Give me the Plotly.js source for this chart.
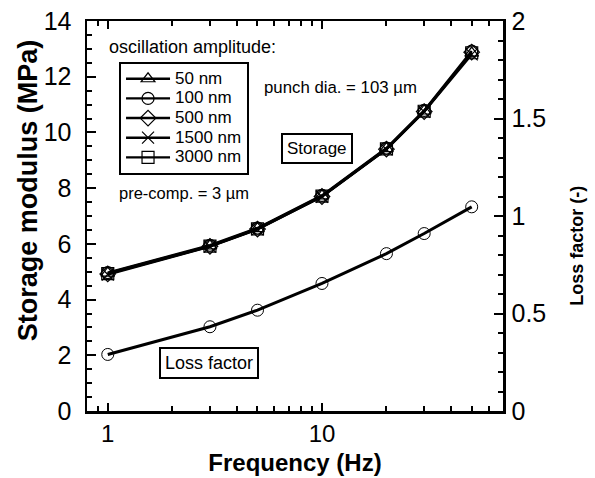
<!DOCTYPE html>
<html>
<head>
<meta charset="utf-8">
<script src="https://cdn.plot.ly/plotly-3.0.1.min.js"></script>
<style>html,body{margin:0;padding:0;background:#fff;}#chart{width:595px;height:478px;}</style>
</head>
<body>
<div id="chart"></div>
<script>
// Data
const freq = [1, 3, 5, 10, 20, 30, 50];
const amp50 = [4.95, 5.93, 6.55, 7.72, 9.42, 10.77, 12.85];
const amp100 = [4.97, 5.95, 6.57, 7.74, 9.44, 10.79, 12.92];
const amp500 = [4.92, 5.91, 6.53, 7.70, 9.40, 10.75, 12.88];
const amp1500 = [4.90, 5.90, 6.52, 7.69, 9.39, 10.74, 12.80];
const amp3000 = [4.93, 5.92, 6.54, 7.71, 9.41, 10.76, 12.86];
const lossFactor = [0.290, 0.432, 0.517, 0.654, 0.807, 0.910, 1.047];
const seriesNames = ["50 nm", "100 nm", "500 nm", "1500 nm", "3000 nm"];
const seriesSymbols = ["triangle-up-open", "circle-open", "diamond-open", "x-thin-open", "square-open"];
const xTickVals = [1, 10];
const xTickText = ["1", "10"];
const xMinorVals = [0.9, 2, 3, 4, 5, 6, 7, 8, 9, 20, 30, 40, 50, 60];

const FONT = "Liberation Sans, Arial, Helvetica, sans-serif";
const storageSets = [amp50, amp100, amp500, amp1500, amp3000];

const traces = storageSets.map((ys, i) => ({
  x: freq, y: ys, name: '<span style="font-size:17px">' + seriesNames[i] + '</span>',
  type: "scatter", mode: "lines+markers",
  line: {color: "#000", width: 2.4},
  marker: {symbol: seriesSymbols[i], size: 12, color: "#000", line: {color: "#000", width: 1.2}},
  xaxis: "x", yaxis: "y"
}));
traces.push({
  x: freq, y: lossFactor, name: "Loss factor", type: "scatter", mode: "lines+markers",
  showlegend: false,
  line: {color: "#000", width: 3},
  marker: {symbol: "circle-open", size: 12, color: "#000", line: {color: "#000", width: 1}},
  xaxis: "x", yaxis: "y2"
});

const layout = {
  width: 595, height: 478,
  margin: {l: 87, r: 92, t: 21, b: 67, pad: 0},
  paper_bgcolor: "#fff", plot_bgcolor: "#fff",
  font: {family: FONT, color: "#000", size: 16},
  showlegend: true,
  legend: {
    x: 0.077, y: 0.895, xanchor: "left", yanchor: "top",
    bordercolor: "#000", borderwidth: 2, bgcolor: "#fff",
    font: {family: FONT, size: 12.8, color: "#000"},
    itemwidth: 44, tracegroupgap: 0
  },
  xaxis: {
    type: "log", range: [Math.log10(0.8), Math.log10(70)],
    tickmode: "array", tickvals: xTickVals, ticktext: xTickText,
    ticks: "inside", ticklen: 8, tickwidth: 2, tickcolor: "#000",
    minor: {tickmode: "array", tickvals: xMinorVals, ticks: "inside", ticklen: 5, tickwidth: 2, tickcolor: "#000"},
    showline: true, linecolor: "#000", linewidth: 2.5, mirror: "ticks",
    showgrid: false, zeroline: false,
    tickfont: {family: FONT, size: 24},
    title: {text: "<b>Frequency (Hz)</b>", font: {family: FONT, size: 24}, standoff: 8}
  },
  yaxis: {
    range: [0, 14], dtick: 2, tick0: 0,
    ticks: "inside", ticklen: 9, tickwidth: 2, tickcolor: "#000",
    minor: {dtick: 0.5, ticks: "inside", ticklen: 5, tickwidth: 2, tickcolor: "#000"},
    showline: true, linecolor: "#000", linewidth: 2.5, mirror: false,
    showgrid: false, zeroline: false, ticklabelstandoff: 8,
    tickfont: {family: FONT, size: 25}
  },
  yaxis2: {
    overlaying: "y", side: "right", anchor: "x",
    range: [0, 2], dtick: 0.5, tick0: 0,
    ticks: "inside", ticklen: 9, tickwidth: 2, tickcolor: "#000",
    minor: {dtick: 0.1, ticks: "inside", ticklen: 5, tickwidth: 2, tickcolor: "#000"},
    showline: true, linecolor: "#000", linewidth: 2.5,
    showgrid: false, zeroline: false, ticklabelstandoff: 1,
    tickfont: {family: FONT, size: 25}
  },
  annotations: [
    {text: "<b>Storage modulus (MPa)</b>", xref: "paper", yref: "paper", x: -0.143, y: 0.5647,
     xanchor: "center", yanchor: "middle", textangle: -90, showarrow: false,
     font: {family: FONT, size: 27}},
    {text: "<b>Loss factor (-)</b>", xref: "paper", yref: "paper", x: 1.178, y: 0.4238,
     xanchor: "center", yanchor: "middle", textangle: -90, showarrow: false,
     font: {family: FONT, size: 18}},
    {text: "oscillation amplitude:", xref: "paper", yref: "paper", x: 0.048, y: 0.933,
     xanchor: "left", yanchor: "middle", showarrow: false, font: {family: FONT, size: 18}},
    {text: "punch dia. = 103 \u00b5m", xref: "paper", yref: "paper", x: 0.421, y: 0.83,
     xanchor: "left", yanchor: "middle", showarrow: false, font: {family: FONT, size: 16.8}},
    {text: "pre-comp. = 3 \u00b5m", xref: "paper", yref: "paper", x: 0.072, y: 0.559,
     xanchor: "left", yanchor: "middle", showarrow: false, font: {family: FONT, size: 16.5}},
    {text: "Storage", xref: "paper", yref: "paper", x: 0.5517, y: 0.6735,
     xanchor: "center", yanchor: "middle", showarrow: false, font: {family: FONT, size: 17},
     bordercolor: "#000", borderwidth: 2, borderpad: 4, bgcolor: "#fff"},
    {text: "Loss factor", xref: "paper", yref: "paper", x: 0.294, y: 0.122,
     xanchor: "center", yanchor: "middle", showarrow: false, font: {family: FONT, size: 18},
     bordercolor: "#000", borderwidth: 2, borderpad: 4, bgcolor: "#fff"}
  ]
};

Plotly.newPlot("chart", traces, layout, {displayModeBar: false, staticPlot: true});
</script>
</body>
</html>
